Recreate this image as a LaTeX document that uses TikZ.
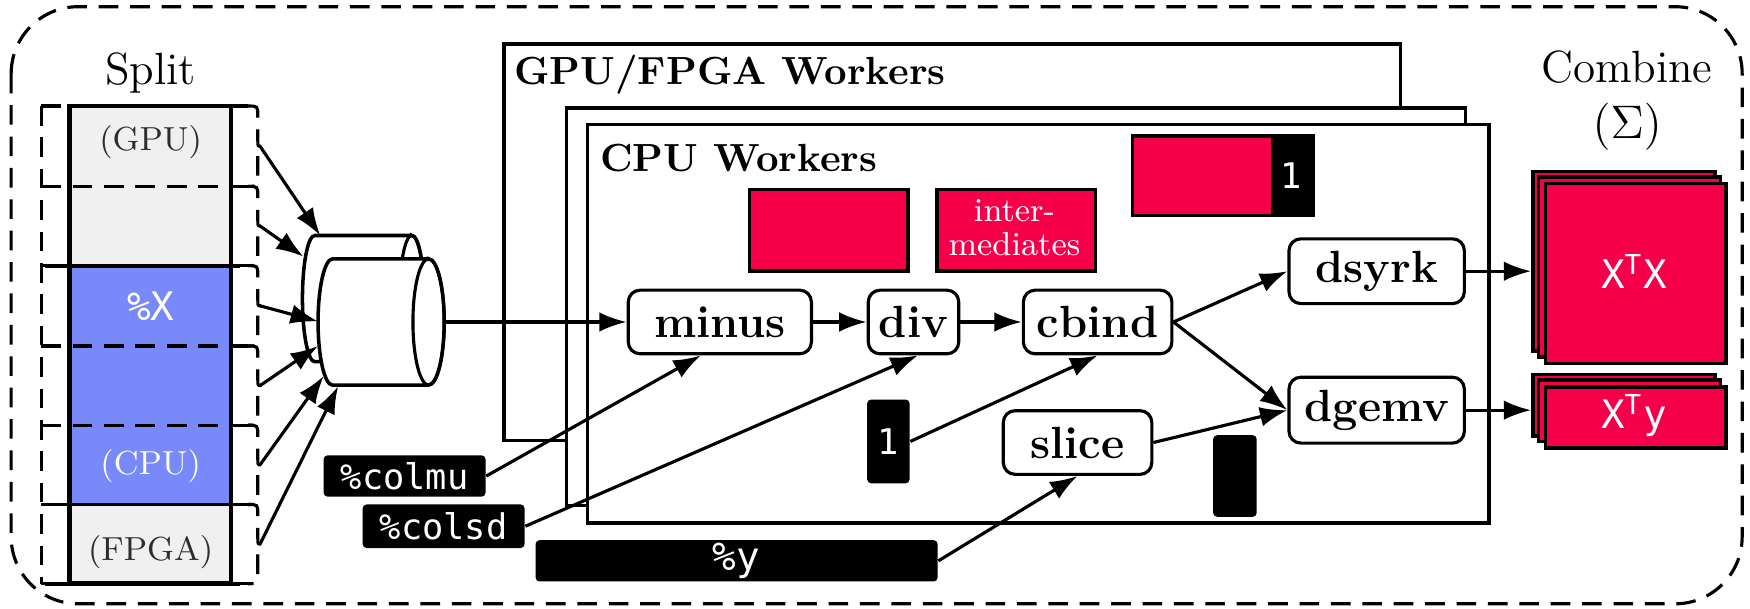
\documentclass[tikz,border=0pt]{standalone}
\usepackage{fontspec}
\newfontfamily\monof{DejaVu Sans Mono}
\usetikzlibrary{arrows.meta}
\definecolor{hred}{RGB}{245,0,72}
\definecolor{hblue}{RGB}{120,137,250}
\definecolor{hgray}{RGB}{240,240,240}
\definecolor{htext}{RGB}{45,45,45}
\begin{document}
\begin{tikzpicture}[x=0.01cm,y=-0.01cm,
  ln/.style={line width=0.8pt},
  dsh/.style={line width=0.8pt, dash pattern=on 5pt off 3pt},
  arr/.style={line width=0.8pt,-{Latex[length=7pt,width=5pt]}},
  proc/.style={draw, line width=0.8pt, fill=white, rounded corners=3pt, font=\fontsize{11.5}{13}\selectfont\bfseries, inner sep=0pt, minimum height=0.57cm},
  wbox/.style={draw, line width=0.9pt, fill=white, inner sep=0pt, anchor=north west},
  redbox/.style={draw, line width=0.9pt, fill=hred, inner sep=0pt, anchor=north west},
  blk/.style={fill=black, rounded corners=1pt, text=white, inner sep=0pt},
  cyl/.style={draw, fill=white, line width=0.9pt},
  title/.style={font=\fontsize{10}{12}\selectfont\bfseries, inner sep=0pt},
  big/.style={font=\fontsize{11.5}{14}\selectfont, inner sep=0pt},
  seg/.style={font=\fontsize{8.5}{10}\selectfont, inner sep=0pt},
]
\useasboundingbox (0,0) rectangle (1568,545);
% outer dashed frame
\draw[dsh, rounded corners=0.6cm] (10,6) rectangle (1561,541);

% ---------- Split column ----------
\node[big, anchor=base] (split) at (135,76) {Split};
\foreach \t/\b/\c in {95/167/hgray,167/238/hgray,238/310/hblue,310/381/hblue,381/452/hblue,452/523/hgray}
  \fill[\c] (62,\t) rectangle (207,\b);
\foreach \yy in {95,167,238,310,381,452,523}
  \draw[dsh] (37,\yy) -- (222,\yy);
\draw[dsh] (37,95) -- (37,523);
\foreach \yy in {238,452,523}
  \draw[line width=1pt] (40,\yy) -- (215,\yy);
\draw[line width=1.2pt] (62,95) rectangle (207,523);
\node[seg, text=htext] (lgpu) at (135,127) {(GPU)};
\node[font=\monof\fontsize{10}{12}\selectfont, text=white, inner sep=0pt] (lx) at (135,274) {\%X};
\node[seg, text=white] (lcpu) at (135,418) {(CPU)};
\node[seg, text=htext] (lfpga) at (135,495) {(FPGA)};
% braces
\foreach \t/\b/\i in {95/167/1,167/238/2,238/310/3,310/381/4,381/452/5,452/523/6}{
  \pgfmathsetmacro{\m}{(\t+\b)/2}
  \draw[dsh] (222,\t) .. controls (231,\t) .. (231,\t+9) -- (231,\m-5)
     .. controls (231,\m) .. (234,\m) .. controls (231,\m) .. (231,\m+5)
     -- (231,\b-9) .. controls (231,\b) .. (222,\b);
  \coordinate (b\i) at (233,\m);
}

% ---------- cylinders ----------
\draw[cyl] (369,211) -- (282,211) arc[start angle=90,end angle=270,x radius=0.11cm,y radius=0.565cm]
   -- (369,324) arc[start angle=-90,end angle=90,x radius=0.11cm,y radius=0.565cm] -- cycle;
\draw[ln] (369,267.5) ellipse[x radius=0.11cm, y radius=0.565cm];
\draw[cyl] (384,232) -- (298,232) arc[start angle=90,end angle=270,x radius=0.13cm,y radius=0.565cm]
   -- (384,345) arc[start angle=-90,end angle=90,x radius=0.14cm,y radius=0.565cm] -- cycle;
\draw[ln] (384,288.5) ellipse[x radius=0.14cm, y radius=0.565cm];
\coordinate (c1) at (287,211);
\coordinate (c2) at (272,230);
\coordinate (c3) at (285,288);
\coordinate (c4) at (285,310);
\coordinate (c5) at (290,337);
\coordinate (c6) at (303,346);
\coordinate (cout) at (398,288.5);
\foreach \i in {1,...,6} \draw[arr] (b\i) -- (c\i);

% ---------- worker boxes ----------
\node[wbox, minimum width=8.03cm, minimum height=3.55cm] (gpu) at (450,38) {};
\node[title, anchor=base west] (gput) at (460,76) {GPU/FPGA Workers};
\node[wbox, minimum width=8.05cm, minimum height=3.56cm] (mid) at (506,95) {};
\node[wbox, minimum width=8.07cm, minimum height=3.57cm] (cpu) at (525,110) {};
\node[title, anchor=base west] (cput) at (537,154) {CPU Workers};

% intermediates
\node[redbox, minimum width=1.42cm, minimum height=0.73cm] (r1) at (670,168) {};
\node[redbox, minimum width=1.42cm, minimum height=0.73cm] (r2) at (838,168) {};
\node[text=white, align=center, font=\fontsize{8.5}{8.5}\selectfont, inner sep=0pt] (r2t) at (909,204) {inter-\\mediates};
\node[fill=black, anchor=north west, inner sep=0pt, minimum width=1.64cm, minimum height=0.75cm] (r3b) at (1013,119) {};
\node[fill=hred, anchor=north west, inner sep=0pt, minimum width=1.23cm, minimum height=0.68cm] (r3) at (1015,123) {};
\node[text=white, font=\monof\fontsize{9}{10}\selectfont, inner sep=0pt] (r3one) at (1157,157) {1};

% process nodes
\node[proc, minimum width=1.64cm] (minus) at (645,288.5) {minus};
\node[proc, minimum width=0.81cm] (div) at (818.5,288.5) {div};
\node[proc, minimum width=1.33cm] (cbind) at (983.5,288.5) {cbind};
\node[proc, minimum width=1.57cm, minimum height=0.58cm] (dsyrk) at (1233.5,243) {dsyrk};
\node[proc, minimum width=1.57cm, minimum height=0.59cm] (dgemv) at (1233.5,367.5) {dgemv};
\node[proc, minimum width=1.33cm] (slice) at (965.5,396.5) {slice};

% black data blocks
\node[blk, minimum width=1.45cm, minimum height=0.37cm, font=\monof\fontsize{9}{10}\selectfont] (colmu) at (362.5,426.5) {\%colmu};
\node[blk, minimum width=1.45cm, minimum height=0.39cm, font=\monof\fontsize{9}{10}\selectfont] (colsd) at (397.5,471.5) {\%colsd};
\node[blk, minimum width=3.6cm, minimum height=0.37cm, font=\monof\fontsize{10}{12}\selectfont] (ybar) at (660,502.5) {\%y};
\node[blk, minimum width=0.38cm, minimum height=0.75cm, font=\monof\fontsize{9}{10}\selectfont] (one) at (796,395.5) {1};
\node[blk, minimum width=0.39cm, minimum height=0.73cm] (blk2) at (1106.5,426.5) {};

% ---------- combine ----------
\node[big, anchor=base] (comb) at (1458,74) {Combine};
\node[big, anchor=base] (sig) at (1458,124) {$(\Sigma)$};
\node[redbox, minimum width=1.63cm, minimum height=1.61cm] (xtx1) at (1372,152) {};
\node[redbox, minimum width=1.63cm, minimum height=1.61cm] (xtx2) at (1377,157) {};
\node[redbox, minimum width=1.62cm, minimum height=1.61cm, text=white, font=\monof\fontsize{10}{12}\selectfont] (xtx) at (1383,163) {};
\node[text=white, font=\monof\fontsize{10}{12}\selectfont, inner sep=0pt] (xtxt) at (1464,243.5) {X\textsuperscript{T}X};
\node[redbox, minimum width=1.63cm, minimum height=0.55cm] (xty1) at (1372,334) {};
\node[redbox, minimum width=1.63cm, minimum height=0.55cm] (xty2) at (1377,339) {};
\node[redbox, minimum width=1.62cm, minimum height=0.55cm] (xty) at (1383,345) {};
\node[text=white, font=\monof\fontsize{10}{12}\selectfont, inner sep=0pt] (xtyt) at (1464,372.5) {X\textsuperscript{T}y};

% ---------- connectors ----------
\draw[arr] (cout) -- (minus.west);
\draw[arr] (minus) -- (div);
\draw[arr] (div) -- (cbind);
\draw[arr] (cbind.east) -- (dsyrk.west);
\draw[arr] (cbind.east) -- (dgemv.west);
\draw[arr] (slice.east) -- (dgemv.west);
\draw[arr] (colmu.east) -- ([xshift=-0.17cm]minus.south);
\draw[arr] (colsd.east) -- ([xshift=0.04cm]div.south);
\draw[arr] (one.east) -- (cbind.south);
\draw[arr] (ybar.east) -- (slice.south);
\draw[arr] (dsyrk.east) -- (dsyrk.east -| xtx1.west);
\draw[arr] (dgemv.east) -- (dgemv.east -| xty1.west);
\end{tikzpicture}
\end{document}
